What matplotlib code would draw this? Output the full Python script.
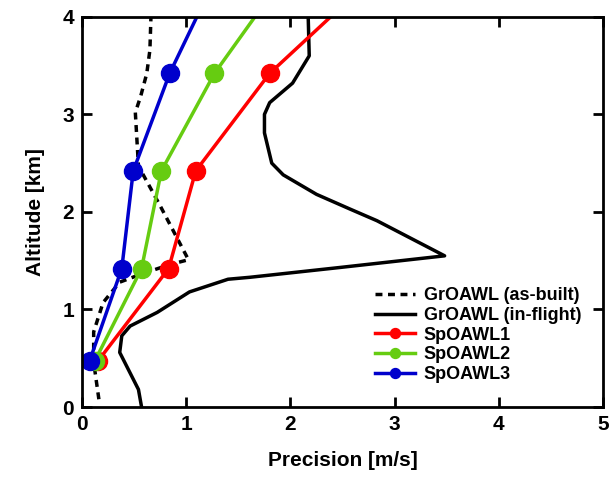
import matplotlib
matplotlib.use("Agg")
import matplotlib.pyplot as plt

# GrOAWL profiles (precision in m/s, altitude in km)
asbuilt_x = [0.16, 0.11, 0.11, 0.20, 0.36, 0.56, 0.84, 1.02, 0.75, 0.54, 0.51, 0.56, 0.62, 0.65, 0.66]
asbuilt_y = [0.08, 0.46, 0.77, 1.07, 1.28, 1.36, 1.46, 1.51, 2.06, 2.47, 3.02, 3.18, 3.42, 3.66, 4.00]

inflight_x = [0.57, 0.54, 0.36, 0.38, 0.46, 0.72, 1.03, 1.40, 1.61, 2.47, 3.48, 2.83, 2.57,
              2.25, 1.93, 1.82, 1.75, 1.75, 1.80, 2.02, 2.18, 2.17]
inflight_y = [0.00, 0.18, 0.56, 0.73, 0.83, 0.97, 1.18, 1.31, 1.33, 1.43, 1.55, 1.91, 2.03,
              2.18, 2.38, 2.50, 2.81, 3.00, 3.12, 3.32, 3.60, 4.00]

# SpOAWL profiles
sp_alt = [0.47, 1.42, 2.42, 3.42, 4.42]
sp1 = [0.15, 0.83, 1.09, 1.80, 2.81]
sp2 = [0.12, 0.57, 0.76, 1.27, 1.94]
sp3 = [0.07, 0.38, 0.49, 0.84, 1.29]

plt.rcParams['font.family'] = ['Liberation Sans', 'DejaVu Sans']
plt.rcParams['font.weight'] = 'bold'

fig = plt.figure(figsize=(6.09, 4.8), dpi=100)
ax = fig.add_axes([0.135, 0.152, 0.855, 0.813])

ax.plot(asbuilt_x, asbuilt_y, color="black", lw=2.5, ls=(0, (2, 1.6)), label="GrOAWL (as-built)")
ax.plot(inflight_x, inflight_y, color="black", lw=2.5, label="GrOAWL (in-flight)")
ax.plot(sp1, sp_alt, color="#ff0000", lw=2.5, marker="o", ms=13, label="SpOAWL1")
ax.plot(sp2, sp_alt, color="#66cc11", lw=2.5, marker="o", ms=13, label="SpOAWL2")
ax.plot(sp3, sp_alt, color="#0000cc", lw=2.5, marker="o", ms=13, label="SpOAWL3")

ax.set_xlim(0, 5)
ax.set_ylim(0, 4)
ax.set_xticks(range(6))
ax.set_yticks(range(5))
ax.tick_params(direction="in", top=True, right=True, length=7, width=2, labelsize=15, pad=6)
for s in ax.spines.values():
    s.set_linewidth(2)

ax.set_xlabel("Precision [m/s]", fontsize=15, fontweight="bold", labelpad=12)
ax.set_ylabel("Altitude [km]", fontsize=15, fontweight="bold", labelpad=12)

leg = ax.legend(loc="lower right", bbox_to_anchor=(0.99, 0.02), frameon=False, fontsize=13,
                handlelength=2.2, handletextpad=0.5, labelspacing=0.15, markerscale=0.55)
for t in leg.get_texts():
    t.set_fontweight("bold")

fig.savefig("out.png", dpi=100)
